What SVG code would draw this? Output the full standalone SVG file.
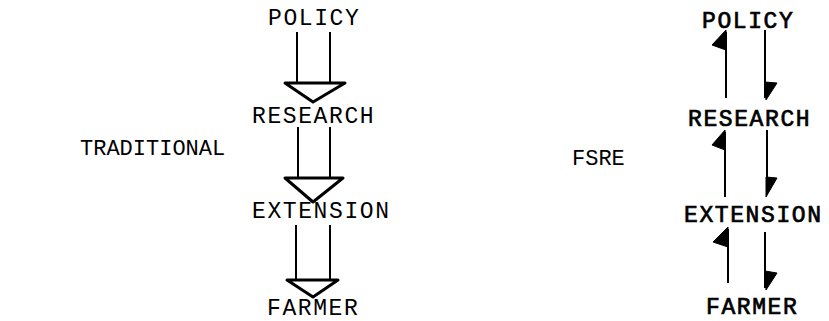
<svg xmlns="http://www.w3.org/2000/svg" width="829" height="321" viewBox="0 0 829 321">
<style>
.t{font-family:"Liberation Mono","Courier New",monospace;font-size:23px;letter-spacing:1.6px;fill:#000}
.s{font-family:"Liberation Mono","Courier New",monospace;font-size:22px;fill:#000}
.r{font-family:"Liberation Mono","Courier New",monospace;font-size:23px;letter-spacing:1.6px;fill:#000;stroke:#000;stroke-width:0.7}
.ln{stroke:#000;stroke-width:2;fill:none}
.tri{stroke:#000;stroke-width:3;fill:#fff;stroke-linejoin:round}
.hd{fill:#000;stroke:#000;stroke-width:1}
</style>
<rect width="829" height="321" fill="#fff"/>
<g id="label-traditional"><text class="s" x="80" y="155">TRADITIONAL</text></g>
<g id="label-fsre"><text class="s" x="572" y="165">FSRE</text></g>
<g id="left-policy"><text class="t" x="268" y="25">POLICY</text></g>
<g id="left-research"><text class="t" x="252" y="123">RESEARCH</text></g>
<g id="left-extension"><text class="t" x="252" y="218">EXTENSION</text></g>
<g id="left-farmer"><text class="t" x="267" y="315">FARMER</text></g>
<g id="right-policy"><text class="r" x="702" y="28">POLICY</text></g>
<g id="right-research"><text class="r" x="688" y="126">RESEARCH</text></g>
<g id="right-extension"><text class="r" x="684" y="222">EXTENSION</text></g>
<g id="right-farmer"><text class="r" x="706" y="314">FARMER</text></g>
<g id="connectors">
<path class="ln" d="M297 32V84M330 32V84"/>
<path class="tri" d="M285 83H345L313 102Z"/>
<path class="ln" d="M298 127V179M330 127V179"/>
<path class="tri" d="M285 178H343L313 202Z"/>
<path class="ln" d="M296 225V281M330 225V281"/>
<path class="tri" d="M287 280H338L313 297Z"/>
<path class="ln" d="M726 32V98"/>
<path class="hd" d="M726 30L712 45L726 50Z"/>
<path class="ln" d="M765 30V98"/>
<path class="hd" d="M765 82L777 83L766 100Z"/>
<path class="ln" d="M725 132V197"/>
<path class="hd" d="M725 130L712 145L725 150Z"/>
<path class="ln" d="M767 130V193"/>
<path class="hd" d="M766 177L777 178L766 197Z"/>
<path class="ln" d="M728 229V283"/>
<path class="hd" d="M728 227L713 242L728 247Z"/>
<path class="ln" d="M765 232V288"/>
<path class="hd" d="M765 271L777 273L766 290Z"/>
</g>
</svg>
